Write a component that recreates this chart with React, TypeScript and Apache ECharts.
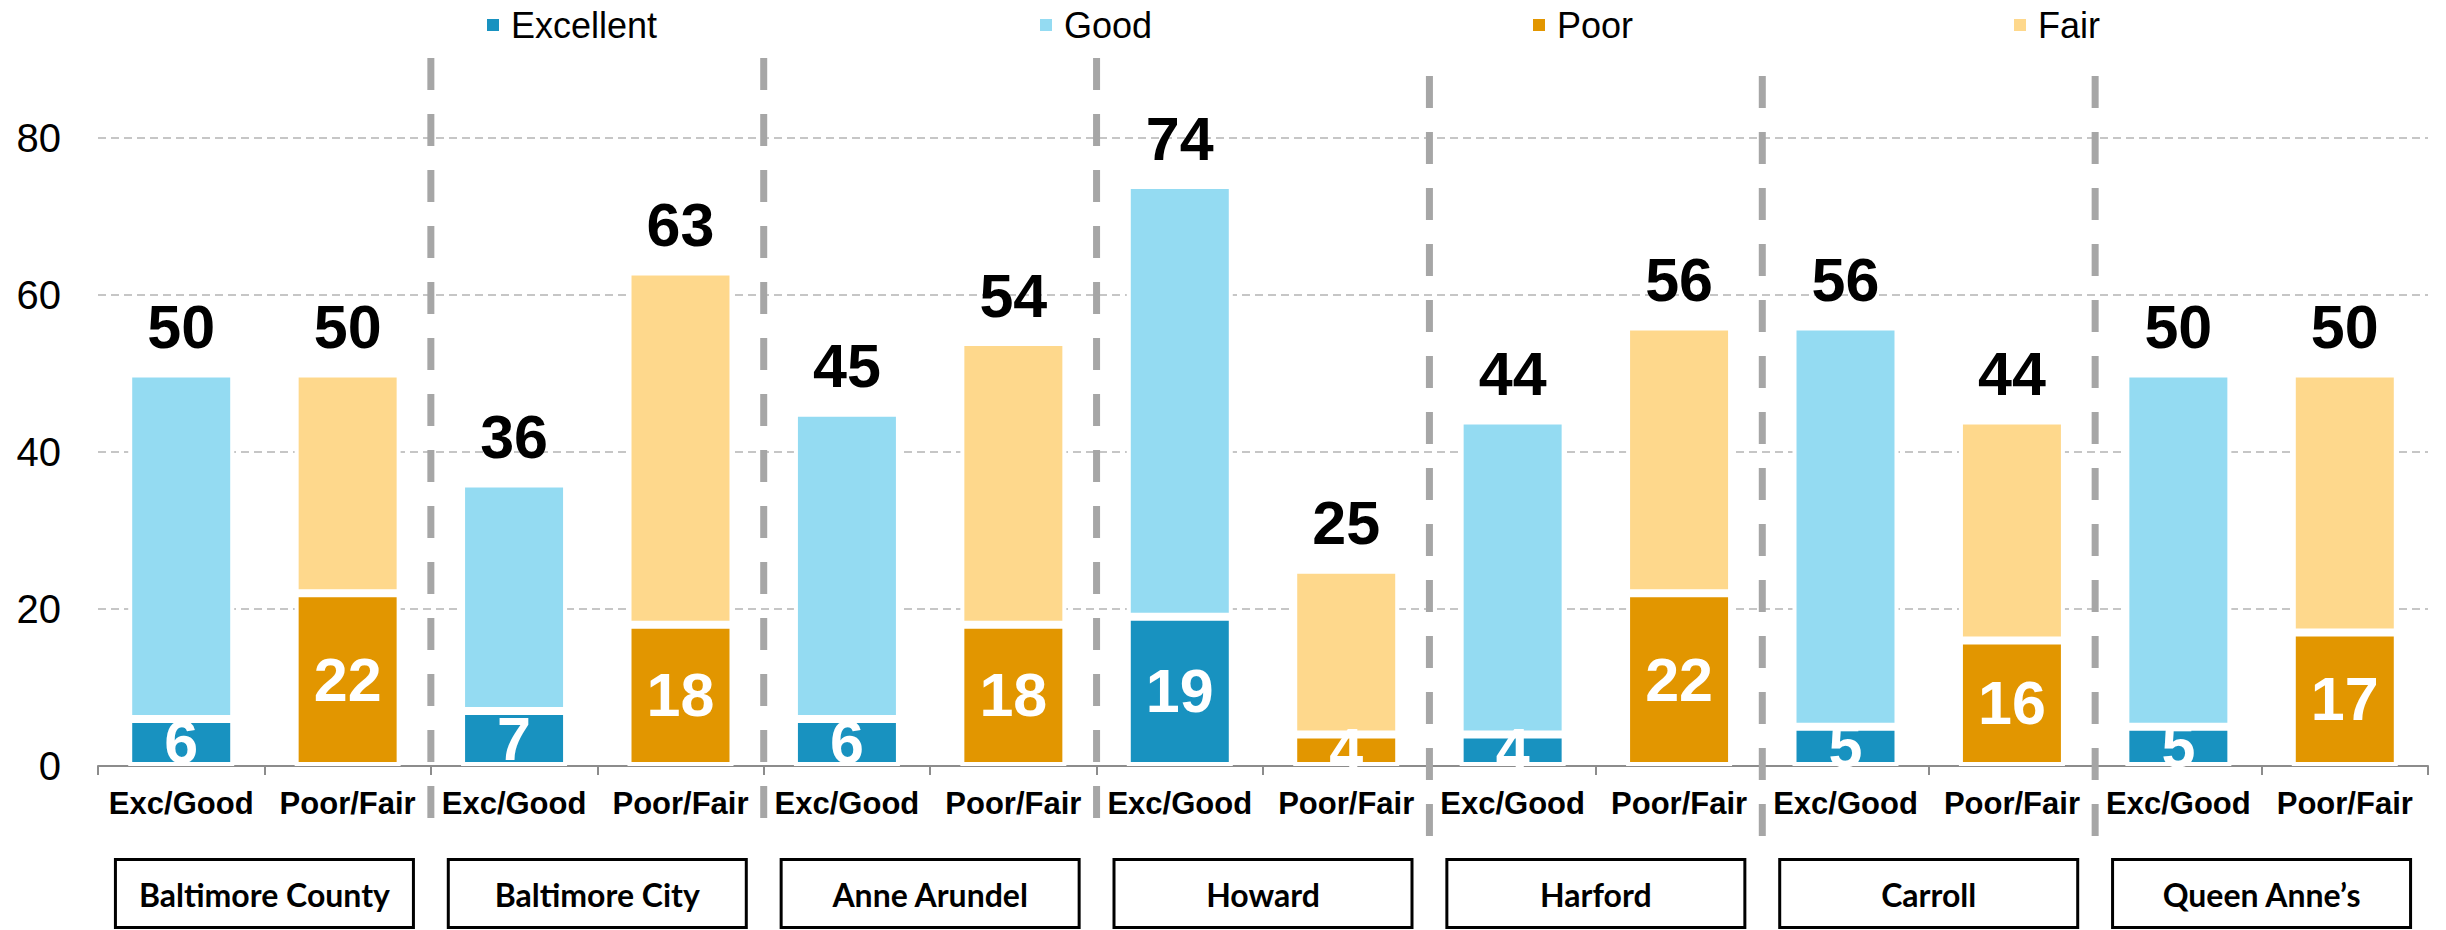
import React, { useEffect, useRef } from 'react';
import * as echarts from 'echarts';

// ---- data ----
const counties = ['Baltimore County', 'Baltimore City', 'Anne Arundel', 'Howard', 'Harford', 'Carroll', 'Queen Anne\u2019s'];
const barTypes = ['Exc/Good', 'Poor/Fair'];
const excellent = [6, 7, 6, 19, 4, 5, 5];
const good = [44, 29, 39, 55, 40, 51, 45];
const poor = [22, 18, 18, 4, 22, 16, 17];
const fair = [28, 45, 36, 21, 34, 28, 33];
const excGoodTotals = [50, 36, 45, 74, 44, 56, 50];
const poorFairTotals = [50, 63, 54, 25, 56, 44, 50];
const yMin = 0;
const yMax = 90;
const yInterval = 20;

const legendNames = ['Excellent', 'Good', 'Poor', 'Fair'];
const legendLeft = [485, 1038, 1531, 2012];
const colors: Record<string, string> = {
  Excellent: '#1892c0',
  Good: '#94dbf2',
  Poor: '#e29600',
  Fair: '#fed88c',
};

const FONT = '"Liberation Sans", Arial, sans-serif';

export default function App() {
  const ref = useRef<HTMLDivElement>(null);

  useEffect(() => {
    if (!ref.current) return;
    const chart = echarts.init(ref.current, undefined, { renderer: 'svg' });

    const categories = counties.flatMap(() => barTypes);
    const totals = counties.flatMap((_, i) => [excGoodTotals[i], poorFairTotals[i]]);
    const onFirst = (arr: number[]) => arr.flatMap((v) => [v, '-']);
    const onSecond = (arr: number[]) => arr.flatMap((v) => ['-', v]);

    const innerLabel = {
      show: true,
      position: 'inside',
      color: '#ffffff',
      fontSize: 61,
      fontWeight: 'bold',
      fontFamily: FONT,
    };
    const topLabel = {
      show: true,
      position: 'top',
      distance: 16,
      color: '#000000',
      fontSize: 61,
      fontWeight: 'bold',
      fontFamily: FONT,
      formatter: (p: any) => String(totals[p.dataIndex]),
    };
    const itemStyle = (name: string) => ({ color: colors[name], borderColor: '#ffffff', borderWidth: 4 });

    const series: any[] = [
      { name: 'Excellent', type: 'bar', stack: 'a', barWidth: 106, data: onFirst(excellent), itemStyle: itemStyle('Excellent'), label: innerLabel },
      { name: 'Good', type: 'bar', stack: 'a', barWidth: 106, data: onFirst(good), itemStyle: itemStyle('Good'), label: topLabel },
      { name: 'Poor', type: 'bar', stack: 'a', barWidth: 106, data: onSecond(poor), itemStyle: itemStyle('Poor'), label: innerLabel },
      { name: 'Fair', type: 'bar', stack: 'a', barWidth: 106, data: onSecond(fair), itemStyle: itemStyle('Fair'), label: topLabel },
    ];

    const legends = legendNames.map((n, i) => ({
      data: [n],
      left: legendLeft[i],
      top: 7,
      padding: 0,
      icon: 'rect',
      itemWidth: 14,
      itemHeight: 14,
      selectedMode: false,
      textStyle: { fontSize: 36, fontFamily: FONT, color: '#000', lineHeight: 36, padding: [0, 0, 0, 6] },
    }));

    chart.setOption({
      animation: false,
      backgroundColor: '#ffffff',
      legend: legends,
      grid: { left: 98, right: 18, top: 59.5, bottom: 164, outerBoundsMode: 'none', containLabel: false },
      xAxis: {
        type: 'category',
        data: categories,
        axisLine: { show: true, lineStyle: { color: '#8c8c8c', width: 2 } },
        axisTick: { show: true, length: 9, lineStyle: { color: '#8c8c8c', width: 2 } },
        axisLabel: { interval: 0, color: '#000', fontSize: 31, fontWeight: 'bold', fontFamily: FONT, margin: 22 },
      },
      yAxis: {
        type: 'value',
        min: yMin,
        max: yMax,
        interval: yInterval,
        axisLine: { show: false },
        axisTick: { show: false },
        axisLabel: { color: '#000', fontSize: 40, fontFamily: FONT, margin: 37, showMaxLabel: false },
        splitLine: { show: true, showMaxLine: false, lineStyle: { color: '#c6c6c6', width: 2, type: [8, 5] } },
      },
      series,
    });

    // decorations derived from the axis: group separators and county boxes
    const xs = categories.map((_, i) => chart.convertToPixel({ xAxisIndex: 0 }, i) as number);
    const band = xs[1] - xs[0];
    const sepTop = [58, 58, 58, 76, 76, 76];
    const graphics: any[] = [];
    for (let k = 1; k < counties.length; k++) {
      const x = xs[2 * k] - band / 2;
      const y1 = sepTop[k - 1];
      graphics.push({
        type: 'line',
        z: 100,
        shape: { x1: x, y1, x2: x, y2: y1 + 760 },
        style: { stroke: '#a6a6a6', lineWidth: 7, lineDash: [32, 24], lineCap: 'butt' },
        silent: true,
      });
    }
    counties.forEach((c, k) => {
      const cx = (xs[2 * k] + xs[2 * k + 1]) / 2;
      graphics.push({
        type: 'rect',
        z: 100,
        shape: { x: cx - 149, y: 859.5, width: 298, height: 68 },
        style: { fill: '#ffffff', stroke: '#000000', lineWidth: 3 },
        silent: true,
      });
      graphics.push({
        type: 'text',
        z: 101,
        x: cx,
        y: 894,
        style: {
          text: c,
          x: 0,
          y: 0,
          fill: '#000',
          fontSize: 32,
          fontWeight: 'bold',
          fontFamily: 'Lato, "Open Sans", sans-serif',
          align: 'center',
          verticalAlign: 'middle',
          textAlign: 'center',
          textVerticalAlign: 'middle',
        },
        silent: true,
      });
    });
    chart.setOption({ graphic: graphics });

    return () => chart.dispose();
  }, []);

  return (
    <div
      ref={ref}
      style={{ position: 'fixed', left: 0, top: 0, width: 2446, height: 930, background: '#fff' }}
    />
  );
}
